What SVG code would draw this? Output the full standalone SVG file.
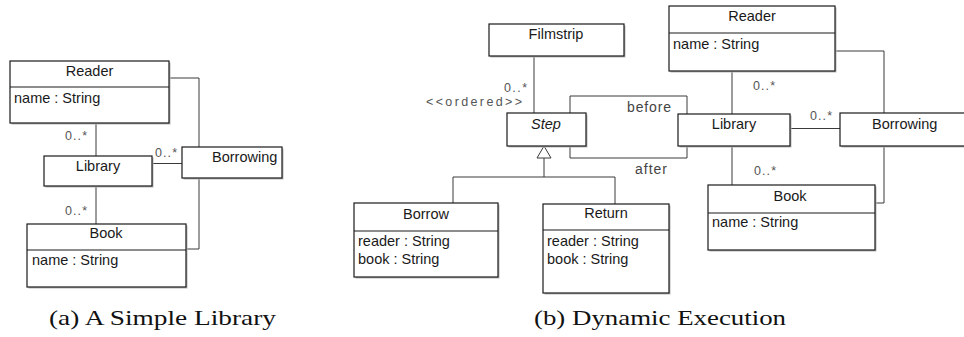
<svg xmlns="http://www.w3.org/2000/svg" width="964" height="337" viewBox="0 0 964 337">
  <defs>
    <style>
      .box { fill: #ffffff; stroke: #1a1a1a; stroke-width: 1.2; }
      .shadow { fill: #b8b8b8; stroke: none; }
      .sep { stroke: #1a1a1a; stroke-width: 1.1; }
      .conn { fill: none; stroke: #3a3a3a; stroke-width: 1; }
      .gen { fill: #ffffff; stroke: #3a3a3a; stroke-width: 1; }
      .name { font-family: "Liberation Sans", Arial, sans-serif; font-size: 14.5px; fill: #1a1a1a; text-anchor: middle; }
      .attr { font-family: "Liberation Sans", Arial, sans-serif; font-size: 14.5px; fill: #1a1a1a; }
      .mult { font-family: "Liberation Sans", Arial, sans-serif; font-size: 12.5px; fill: #555555; }
      .role { font-family: "Liberation Sans", Arial, sans-serif; font-size: 14px; fill: #444444; }
      .cap { font-family: "Liberation Serif", "Times New Roman", serif; font-size: 22px; fill: #111111; }
    </style>
  </defs>
  <rect width="964" height="337" fill="#ffffff"/>

  <!-- (a) simple library: associations -->
  <g id="a-connectors">
    <path class="conn" d="M96 123 V156"/>
    <path class="conn" d="M96 186 V224"/>
    <path class="conn" d="M152 163.5 H182"/>
    <path class="conn" d="M169 78 H199 V147"/>
    <path class="conn" d="M199 178 V249 H186"/>
    <text class="mult" x="87" y="140" text-anchor="end" textLength="22" lengthAdjust="spacing">0..*</text>
    <text class="mult" x="155" y="157" textLength="22" lengthAdjust="spacing">0..*</text>
    <text class="mult" x="87" y="215" text-anchor="end" textLength="22" lengthAdjust="spacing">0..*</text>
  </g>

  <g id="a-reader">
    <rect class="shadow" x="11.5" y="62.5" width="159" height="62"/>
    <rect class="box" x="10" y="61" width="159" height="62"/>
    <line class="sep" x1="10" y1="87" x2="169" y2="87"/>
    <text class="name" x="89.5" y="76">Reader</text>
    <text class="attr" x="14" y="103">name : String</text>
  </g>

  <g id="a-library">
    <rect class="shadow" x="45.5" y="157.5" width="108" height="30"/>
    <rect class="box" x="44" y="156" width="108" height="30"/>
    <text class="name" x="98" y="171">Library</text>
  </g>

  <g id="a-borrowing">
    <rect class="shadow" x="183.5" y="148.5" width="100" height="31"/>
    <rect class="box" x="182" y="147" width="100" height="31"/>
    <text class="attr" x="212" y="162">Borrowing</text>
  </g>

  <g id="a-book">
    <rect class="shadow" x="28.5" y="225.5" width="159" height="63"/>
    <rect class="box" x="27" y="224" width="159" height="63"/>
    <line class="sep" x1="27" y1="250" x2="186" y2="250"/>
    <text class="name" x="106" y="238">Book</text>
    <text class="attr" x="32" y="265">name : String</text>
  </g>

  <!-- (b) dynamic execution: associations and generalisation -->
  <g id="b-connectors">
    <path class="conn" d="M534 56 V113"/>
    <path class="conn" d="M570 113 V96 H687 V114"/>
    <path class="conn" d="M570 146 V158 H687 V146"/>
    <path class="conn" d="M544 158 V177 M453 177 H615 M453 177 V203 M615 177 V204"/>
    <polygon class="gen" points="544,146 551,158 537,158"/>
    <path class="conn" d="M732 71 V114"/>
    <path class="conn" d="M732 146 V185"/>
    <path class="conn" d="M790 128.5 H840"/>
    <path class="conn" d="M835 51 H884 V113"/>
    <path class="conn" d="M884 146 V203 H875"/>
    <text class="mult" x="527" y="91.5" text-anchor="end" textLength="23" lengthAdjust="spacing">0..*</text>
    <text class="mult" x="522" y="106" text-anchor="end" textLength="96" lengthAdjust="spacing">&lt;&lt;ordered&gt;&gt;</text>
    <text class="role" x="627" y="112" textLength="44" lengthAdjust="spacing">before</text>
    <text class="role" x="635" y="174" textLength="32" lengthAdjust="spacing">after</text>
    <text class="mult" x="753" y="90" textLength="22" lengthAdjust="spacing">0..*</text>
    <text class="mult" x="810" y="120" textLength="22" lengthAdjust="spacing">0..*</text>
    <text class="mult" x="754" y="175" textLength="22" lengthAdjust="spacing">0..*</text>
  </g>

  <g id="b-filmstrip">
    <rect class="shadow" x="490.5" y="25.5" width="135" height="32"/>
    <rect class="box" x="489" y="24" width="135" height="32"/>
    <text class="name" x="556" y="39">Filmstrip</text>
  </g>

  <g id="b-step">
    <rect class="shadow" x="508.5" y="114.5" width="79" height="33"/>
    <rect class="box" x="507" y="113" width="79" height="33"/>
    <text class="name" x="546" y="129" font-style="italic">Step</text>
  </g>

  <g id="b-borrow">
    <rect class="shadow" x="355.5" y="204.5" width="144" height="74"/>
    <rect class="box" x="354" y="203" width="144" height="74"/>
    <line class="sep" x1="354" y1="231" x2="498" y2="231"/>
    <text class="name" x="426" y="219">Borrow</text>
    <text class="attr" x="358" y="246">reader : String</text>
    <text class="attr" x="358" y="264">book : String</text>
  </g>

  <g id="b-return">
    <rect class="shadow" x="544.5" y="205.5" width="126" height="89"/>
    <rect class="box" x="543" y="204" width="126" height="89"/>
    <line class="sep" x1="543" y1="230" x2="669" y2="230"/>
    <text class="name" x="606" y="218">Return</text>
    <text class="attr" x="547" y="246">reader : String</text>
    <text class="attr" x="547" y="264">book : String</text>
  </g>

  <g id="b-reader">
    <rect class="shadow" x="670.5" y="7.5" width="166" height="65"/>
    <rect class="box" x="669" y="6" width="166" height="65"/>
    <line class="sep" x1="669" y1="33" x2="835" y2="33"/>
    <text class="name" x="752" y="21">Reader</text>
    <text class="attr" x="673" y="49">name : String</text>
  </g>

  <g id="b-library">
    <rect class="shadow" x="679.5" y="115.5" width="112" height="32"/>
    <rect class="box" x="678" y="114" width="112" height="32"/>
    <text class="name" x="734" y="129">Library</text>
  </g>

  <g id="b-borrowing">
    <rect class="shadow" x="841.5" y="114.5" width="132" height="33"/>
    <rect class="box" x="840" y="113" width="132" height="33"/>
    <text class="attr" x="872" y="129">Borrowing</text>
  </g>

  <g id="b-book">
    <rect class="shadow" x="709.5" y="186.5" width="167" height="65"/>
    <rect class="box" x="708" y="185" width="167" height="65"/>
    <line class="sep" x1="708" y1="213" x2="875" y2="213"/>
    <text class="name" x="790" y="201">Book</text>
    <text class="attr" x="712" y="227">name : String</text>
  </g>

  <!-- sub-figure captions -->
  <text class="cap" x="49" y="325" textLength="227" lengthAdjust="spacingAndGlyphs">(a) A Simple Library</text>
  <text class="cap" x="534" y="325" textLength="252" lengthAdjust="spacingAndGlyphs">(b) Dynamic Execution</text>
</svg>
